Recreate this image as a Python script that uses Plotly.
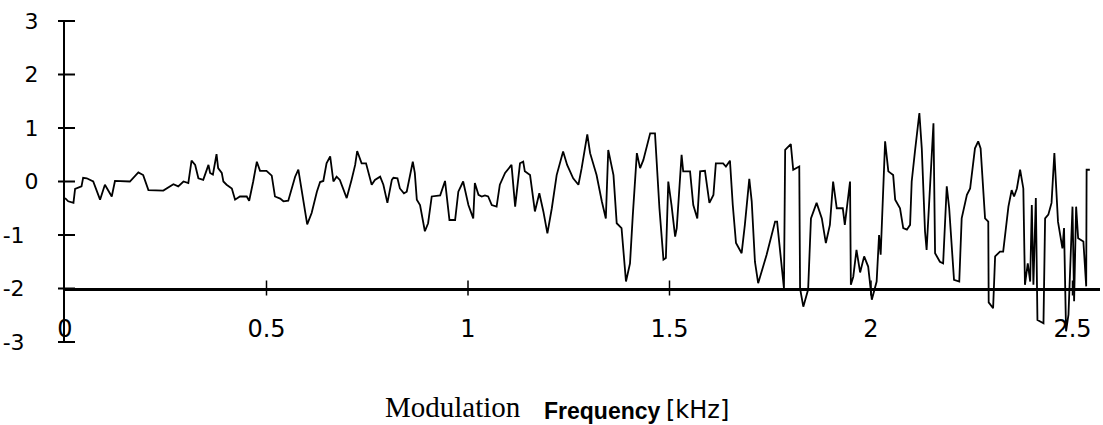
import plotly.graph_objects as go

# Modulation frequency (kHz) and response values
FREQ = [
    0.000, 0.008, 0.021, 0.025, 0.041, 0.045, 0.054, 0.070, 0.087, 0.099,
    0.116, 0.124, 0.161, 0.182, 0.194, 0.207, 0.244, 0.269, 0.281, 0.294,
    0.306, 0.314, 0.323, 0.331, 0.343, 0.356, 0.360, 0.367, 0.376, 0.380,
    0.389, 0.393, 0.401, 0.414, 0.422, 0.434, 0.451, 0.457, 0.467, 0.476,
    0.484, 0.500, 0.513, 0.521, 0.534, 0.542, 0.554, 0.563, 0.571, 0.579,
    0.587, 0.601, 0.612, 0.625, 0.633, 0.641, 0.649, 0.658, 0.666, 0.674,
    0.682, 0.699, 0.711, 0.720, 0.725, 0.736, 0.747, 0.761, 0.769, 0.782,
    0.790, 0.800, 0.811, 0.815, 0.825, 0.831, 0.841, 0.848, 0.863, 0.868,
    0.873, 0.881, 0.893, 0.901, 0.910, 0.931, 0.943, 0.954, 0.968, 0.976,
    0.988, 1.001, 1.013, 1.017, 1.026, 1.034, 1.042, 1.050, 1.059, 1.071,
    1.079, 1.092, 1.108, 1.117, 1.129, 1.137, 1.141, 1.154, 1.166, 1.177,
    1.187, 1.197, 1.208, 1.220, 1.236, 1.246, 1.261, 1.274, 1.282, 1.296,
    1.303, 1.319, 1.332, 1.342, 1.348, 1.361, 1.369, 1.381, 1.392, 1.402,
    1.409, 1.419, 1.427, 1.435, 1.452, 1.464, 1.475, 1.485, 1.491, 1.497,
    1.505, 1.514, 1.518, 1.530, 1.534, 1.551, 1.559, 1.569, 1.576, 1.588,
    1.599, 1.609, 1.615, 1.633, 1.640, 1.650, 1.657, 1.665, 1.679, 1.687,
    1.698, 1.704, 1.712, 1.720, 1.741, 1.762, 1.767, 1.778, 1.784, 1.787,
    1.801, 1.807, 1.816, 1.822, 1.824, 1.832, 1.844, 1.851, 1.865, 1.878,
    1.888, 1.898, 1.906, 1.915, 1.930, 1.935, 1.948, 1.950, 1.956, 1.964,
    1.973, 1.983, 1.993, 2.002, 2.014, 2.020, 2.024, 2.035, 2.043, 2.055,
    2.060, 2.072, 2.080, 2.089, 2.097, 2.101, 2.109, 2.120, 2.126, 2.134,
    2.138, 2.146, 2.155, 2.159, 2.171, 2.179, 2.188, 2.194, 2.206, 2.219,
    2.225, 2.238, 2.246, 2.258, 2.266, 2.272, 2.283, 2.291, 2.292, 2.303,
    2.308, 2.320, 2.328, 2.341, 2.349, 2.355, 2.362, 2.370, 2.378, 2.382,
    2.389, 2.395, 2.399, 2.403, 2.409, 2.413, 2.428, 2.432, 2.440, 2.448,
    2.455, 2.464, 2.475, 2.479, 2.484, 2.490, 2.500, 2.504, 2.509, 2.514,
    2.527, 2.534, 2.535, 2.543,
]
RESP = [
    -0.31, -0.37, -0.40, -0.14, -0.09, 0.07, 0.06, 0.00, -0.34, -0.06,
    -0.28, 0.01, 0.00, 0.17, 0.12, -0.16, -0.17, -0.05, -0.09, 0.00,
    -0.03, 0.39, 0.31, 0.06, 0.03, 0.31, 0.16, 0.13, 0.51, 0.25,
    0.16, 0.00, -0.06, -0.13, -0.34, -0.28, -0.28, -0.36, 0.00, 0.37,
    0.20, 0.20, 0.11, -0.28, -0.32, -0.37, -0.36, -0.13, 0.09, 0.22,
    -0.13, -0.80, -0.59, -0.19, -0.01, 0.01, 0.34, 0.47, 0.00, 0.09,
    0.03, -0.31, 0.03, 0.31, 0.57, 0.34, 0.34, -0.06, 0.03, 0.09,
    -0.06, -0.40, 0.03, 0.07, 0.06, -0.13, -0.22, -0.19, 0.37, 0.16,
    -0.34, -0.44, -0.93, -0.78, -0.28, -0.26, 0.01, -0.72, -0.72, -0.19,
    0.00, -0.44, -0.69, -0.03, -0.25, -0.28, -0.26, -0.28, -0.44, -0.47,
    -0.06, 0.16, 0.31, -0.47, 0.34, 0.37, 0.19, 0.12, -0.56, -0.22,
    -0.56, -0.97, -0.50, 0.12, 0.56, 0.31, 0.06, -0.06, 0.25, 0.88,
    0.53, 0.12, -0.37, -0.69, 0.59, 0.12, -0.78, -0.87, -1.87, -1.53,
    -0.62, 0.53, 0.25, 0.40, 0.90, 0.90, -0.50, -1.46, -1.43, 0.00,
    -0.44, -1.03, -0.87, 0.50, 0.19, 0.19, -0.44, -0.69, 0.19, 0.20,
    -0.40, -0.25, 0.34, 0.34, 0.28, 0.39, -0.44, -1.15, -1.34, -0.81,
    0.05, -0.37, -1.50, -1.90, -1.37, -0.75, -0.75, -1.62, -2.00, 0.59,
    0.70, 0.22, 0.26, 0.28, -2.00, -2.34, -2.02, -0.69, -0.40, -0.69,
    -1.15, -0.81, 0.00, -0.50, -0.50, -0.81, 0.00, -1.93, -1.78, -1.28,
    -1.70, -1.40, -1.59, -2.21, -1.87, -1.00, -1.37, 0.75, 0.19, 0.12,
    -0.34, -0.50, -0.87, -0.90, -0.81, 0.00, 0.56, 1.28, 0.62, -0.93,
    -1.28, -0.19, 1.09, -1.34, -1.50, -1.53, -0.09, -0.50, -1.84, -1.87,
    -0.69, -0.25, -0.13, 0.62, 0.75, 0.62, -0.69, -0.75, -2.26, -2.37,
    -1.40, -1.31, -1.31, -0.47, -0.16, -0.28, -0.13, 0.22, -0.13, -1.93,
    -1.53, -1.87, -0.44, -1.93, -0.31, -2.59, -2.65, -0.69, -0.62, -0.40,
    0.53, -0.75, -1.25, -0.87, -2.80, -2.49, -0.47, -2.24, -0.47, -1.06,
    -1.12, -1.96, 0.22, 0.22,
]

X_TICKS = [0, 0.5, 1, 1.5, 2, 2.5]
X_TICK_LABELS = ["0", "0.5", "1", "1.5", "2", "2.5"]
Y_TICKS = [3, 2, 1, 0, -1, -2, -3]
Y_TICK_LABELS = ["3", "2", "1", "0", "-1\u00a0\u00a0", "-2\u00a0\u00a0", "-3\u00a0\u00a0"]
BASELINE = -2
TITLE_PARTS = ["Modulation", "<b>Frequency</b>", "[kHz]"]

W, H = 1103, 425
L, R, T, B = 65, 3, 21, 83
PW, PH = W - L - R, H - T - B
PX_PER_KHZ = 403
x_max = PW / PX_PER_KHZ
y_min, y_max = min(Y_TICKS), max(Y_TICKS)
base_frac = (BASELINE - y_min) / (y_max - y_min)

fig = go.Figure()
fig.add_trace(go.Scatter(x=FREQ, y=RESP, mode="lines",
                         line=dict(color="black", width=1.8), hoverinfo="skip"))

shapes = []
for yv in Y_TICKS:
    yf = (yv - y_min) / (y_max - y_min)
    shapes.append(dict(type="line", xref="paper", yref="paper",
                       x0=-7 / PW, x1=10 / PW, y0=yf, y1=yf,
                       line=dict(color="black", width=2)))
for xv in X_TICKS[1:]:
    xf = xv / x_max
    shapes.append(dict(type="line", xref="paper", yref="paper",
                       x0=xf, x1=xf, y0=base_frac - 7 / PH, y1=base_frac + 8 / PH,
                       line=dict(color="black", width=1.5)))

sans = "Liberation Sans, Arial, sans-serif"
tickfam = "DejaVu Sans, Liberation Sans, sans-serif"
plot_y = lambda px: 1 - (px - T) / PH
plot_x = lambda px: (px - L) / PW

fig.update_layout(
    width=W, height=H,
    margin=dict(l=L, r=R, t=T, b=B, pad=0),
    paper_bgcolor="white", plot_bgcolor="white",
    showlegend=False,
    font=dict(family=sans, color="black"),
    shapes=shapes,
    xaxis=dict(range=[0, x_max], anchor="free", position=base_frac,
               showline=True, linecolor="black", linewidth=3,
               showgrid=False, zeroline=False, ticks="",
               tickvals=X_TICKS, ticktext=X_TICK_LABELS,
               tickfont=dict(family=tickfam, size=24), ticklabelstandoff=18),
    yaxis=dict(range=[y_min, y_max], showline=True, linecolor="black", linewidth=2,
               showgrid=False, zeroline=False, ticks="",
               tickvals=Y_TICKS, ticktext=Y_TICK_LABELS,
               tickfont=dict(family=tickfam, size=22), ticklabelstandoff=20),
    annotations=[
        dict(text=TITLE_PARTS[0], xref="paper", yref="paper", x=plot_x(523), y=plot_y(407),
             xanchor="right", yanchor="middle", showarrow=False,
             font=dict(family="Liberation Serif, Times New Roman, serif", size=29, color="black")),
        dict(text=TITLE_PARTS[1], xref="paper", yref="paper", x=plot_x(542), y=plot_y(411),
             xanchor="left", yanchor="middle", showarrow=False,
             font=dict(family=sans, size=23, color="black")),
        dict(text=TITLE_PARTS[2], xref="paper", yref="paper", x=plot_x(664), y=plot_y(410),
             xanchor="left", yanchor="middle", showarrow=False,
             font=dict(family=tickfam, size=24, color="black")),
    ],
)

fig.write_html("out.html")
